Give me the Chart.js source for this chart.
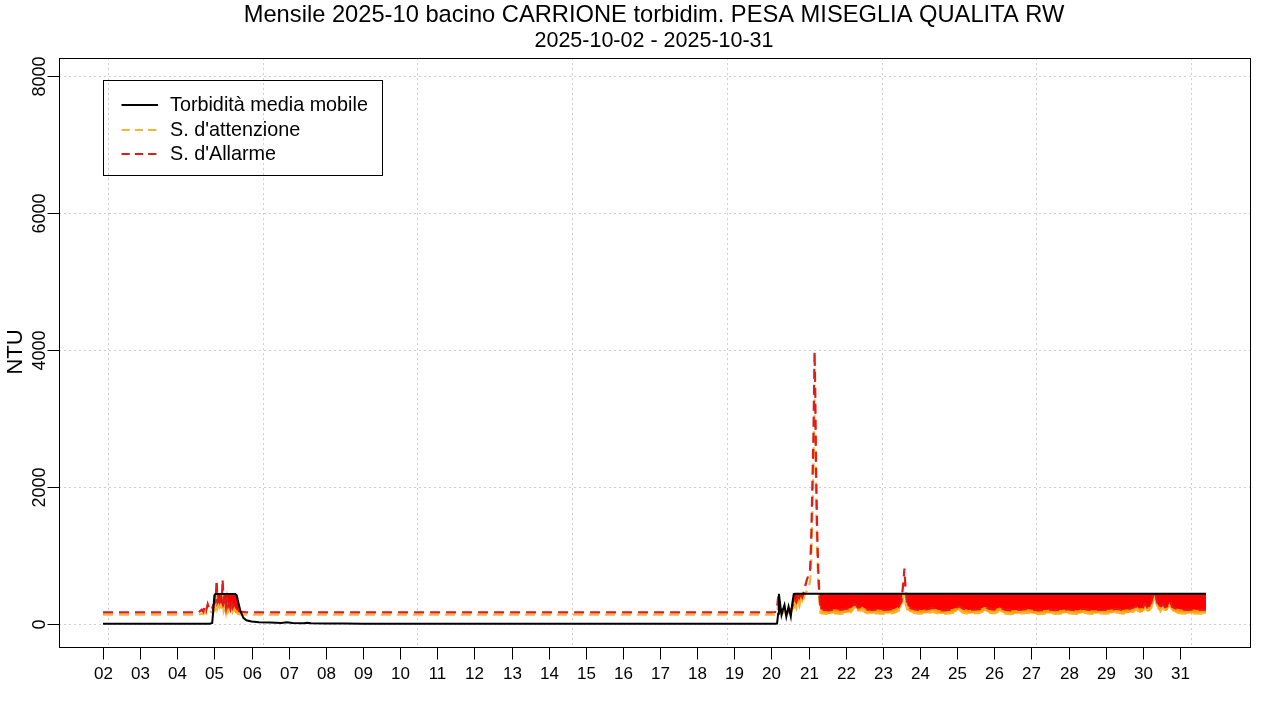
<!DOCTYPE html>
<html>
<head>
<meta charset="utf-8">
<script src="https://cdn.jsdelivr.net/npm/chart.js@4.4.1/dist/chart.umd.min.js"></script>
<style>
html, body { margin: 0; padding: 0; background: #ffffff; }
canvas { display: block; }
</style>
</head>
<body>
<canvas id="chart" width="1280" height="720"></canvas>
<script>
// ---------- texts ----------
const titleText = "Mensile 2025-10 bacino CARRIONE torbidim. PESA MISEGLIA QUALITA RW";
const subtitleText = "2025-10-02 - 2025-10-31";
const yAxisTitle = "NTU";
const seriesNames = ["Torbidità media mobile", "S. d'attenzione", "S. d'Allarme"];

// ---------- ticks (x in days of October 2025) ----------
const dayTicks = [2, 3, 4, 5, 6, 7, 8, 9, 10, 11, 12, 13, 14, 15, 16, 17, 18, 19, 20, 21, 22, 23, 24, 25, 26, 27, 28, 29, 30, 31];
const dayLabels = ["02", "03", "04", "05", "06", "07", "08", "09", "10", "11", "12", "13", "14", "15", "16", "17", "18", "19", "20", "21", "22", "23", "24", "25", "26", "27", "28", "29", "30", "31"];
const yTicks = [0, 2000, 4000, 6000, 8000];
const gridDays = [2.135, 6.302, 10.468, 14.635, 18.802, 22.968, 27.135, 31.302];

// ---------- data ----------
const time = [
  2.00, 2.50, 3.00, 3.50, 4.00, 4.40, 4.58,
  4.66, 4.70, 4.74, 4.78, 4.82, 4.86, 4.90, 4.94, 4.97, 5.00,
  5.03, 5.06, 5.08, 5.11, 5.14, 5.17, 5.20, 5.22, 5.25, 5.28,
  5.31, 5.34, 5.37, 5.40, 5.43, 5.46, 5.49, 5.52, 5.56,
  5.60, 5.65, 5.70, 5.78, 5.86,
  6.00, 6.20, 6.50, 6.80, 6.95, 7.10, 7.40, 7.50, 7.60, 8.00, 8.50, 9.00,
  10, 11, 12, 13, 14, 15, 16, 17, 18, 19, 20.00,
  20.10, 20.15, 20.18, 20.20, 20.24, 20.27, 20.31, 20.35, 20.40, 20.46, 20.52, 20.56, 20.60,
  20.63, 20.67, 20.71, 20.75, 20.79, 20.83, 20.87, 20.91, 20.95, 21.00, 21.04,
  21.07, 21.10, 21.13, 21.16, 21.18, 21.20, 21.23, 21.26, 21.29, 21.32,
  21.40, 21.55, 21.70, 21.85, 22.00, 22.15, 22.22, 22.27, 22.32, 22.45,
  22.55, 22.70, 22.85, 23.00, 23.15, 23.30, 23.42, 23.50, 23.55, 23.58,
  23.61, 23.66, 23.75, 23.90, 24.05, 24.20, 24.35, 24.50, 24.65, 24.80,
  24.95, 25.05, 25.15, 25.30, 25.45, 25.60, 25.75, 25.85, 26.00, 26.15,
  26.30, 26.45, 26.60, 26.75, 26.90, 27.05, 27.20, 27.35, 27.50, 27.65,
  27.80, 27.95, 28.10, 28.25, 28.40, 28.55, 28.70, 28.85, 29.00, 29.15,
  29.30, 29.45, 29.60, 29.75, 29.82, 29.90, 30.00, 30.06, 30.12, 30.20,
  30.26, 30.31, 30.35, 30.40, 30.47, 30.54, 30.60, 30.67, 30.73, 30.79,
  30.90, 31.05, 31.20, 31.35, 31.50, 31.70
];

const turbidity = [
  4, 4, 5, 4, 4, 5, 4,
  4, 4, 4, 4, 4, 5, 6, 15, 200, 420,
  438, 438, 438, 438, 438, 438, 438, 438, 438, 438,
  438, 438, 438, 438, 438, 438, 438, 438, 438,
  420, 300, 190, 90, 55,
  35, 26, 20, 16, 24, 14, 12, 18, 10, 8, 6, 5,
  4, 4, 4, 4, 4, 4, 4, 4, 4, 4, 4,
  4, 6, 150, 440, 260, 130, 210, 277, 107, 253, 110, 300, 438,
  442, 442, 442, 442, 442, 442, 442, 442, 442, 442, 442,
  442, 442, 442, 442, 442, 442, 442, 442, 442, 442,
  442, 442, 442, 442, 442, 442, 442, 442, 442, 442,
  442, 442, 442, 442, 442, 442, 442, 442, 442, 442,
  442, 442, 442, 442, 442, 442, 442, 442, 442, 442,
  442, 442, 442, 442, 442, 442, 442, 442, 442, 442,
  442, 442, 442, 442, 442, 442, 442, 442, 442, 442,
  442, 442, 442, 442, 442, 442, 442, 442, 442, 442,
  442, 442, 442, 442, 442, 442, 442, 442, 442, 442,
  442, 442, 442, 442, 442, 442, 442, 442, 442, 442,
  442, 442, 442, 442, 442, 442
];

const attention = [
  135, 135, 135, 135, 135, 135, 137,
  150, 140, 170, 150, 190, 160, 180, 170, 200, 190,
  220, 420, 230, 280, 190, 300, 220, 430, 200, 260,
  170, 310, 180, 220, 160, 250, 170, 200, 160,
  150, 145, 140, 138, 135,
  135, 135, 135, 135, 135, 135, 135, 135, 135, 135, 135, 135,
  135, 135, 135, 135, 135, 135, 135, 135, 135, 135, 135,
  138, 160, 280, 190, 160, 150, 160, 175, 150, 165, 150, 180, 220,
  280, 230, 320, 260, 350, 300, 380, 440, 480, 540, 620,
  950, 1600, 2300, 3300, 2800, 1900, 1050, 600, 330, 160,
  150, 145, 155, 148, 160, 175, 230, 250, 180, 200,
  160, 150, 155, 148, 152, 160, 190, 250, 380, 430,
  300, 200, 170, 155, 150, 160, 175, 150, 148, 155,
  170, 210, 165, 150, 155, 160, 195, 165, 155, 185,
  150, 145, 150, 155, 165, 150, 145, 150, 155, 148,
  150, 160, 150, 145, 165, 150, 148, 155, 150, 155,
  170, 150, 160, 180, 220, 165, 175, 260, 180, 190,
  300, 420, 330, 220, 180, 250, 185, 200, 290, 190,
  165, 155, 150, 155, 150, 152
];

const alarm = [
  170, 170, 170, 170, 170, 170, 172,
  210, 180, 260, 200, 290, 220, 250, 230, 280, 300,
  330, 640, 320, 360, 260, 380, 330, 650, 300, 340,
  240, 370, 260, 300, 230, 320, 240, 280, 230,
  200, 190, 180, 175, 170,
  170, 170, 170, 170, 170, 170, 170, 170, 170, 170, 170, 170,
  170, 170, 170, 170, 170, 170, 170, 170, 170, 170, 170,
  175, 240, 400, 280, 220, 200, 215, 235, 200, 225, 205, 250, 300,
  360, 320, 400, 340, 420, 390, 470, 560, 640, 720, 790,
  1250, 2000, 2750, 3980, 3350, 2300, 1350, 780, 440, 215,
  205, 200, 215, 205, 220, 235, 270, 290, 240, 250,
  215, 205, 210, 205, 210, 220, 250, 330, 600, 810,
  520, 270, 230, 210, 205, 215, 235, 205, 200, 210,
  230, 260, 225, 205, 210, 215, 250, 225, 210, 240,
  205, 200, 205, 210, 220, 205, 200, 205, 210, 202,
  205, 215, 205, 200, 222, 205, 202, 210, 205, 210,
  225, 205, 215, 240, 260, 225, 235, 300, 240, 250,
  380, 480, 400, 280, 240, 290, 245, 260, 330, 250,
  225, 212, 205, 210, 205, 208
];

// ---------- styles ----------
const FONT = "'Liberation Sans', Arial, sans-serif";
const COL_TURB = "#000000";
const COL_ATT = "#F7B43A";
const COL_ALARM = "#DD1C1C";
const FILL_ALARM = "#FF0000";
const FILL_ATT = "#FFA000";
const DASH = [10, 6];

function toPoints(values) {
  return time.map((x, i) => ({ x: x, y: values[i] }));
}

const decorPlugin = {
  id: "decor",
  beforeDatasetsDraw(chart) {
    const ctx = chart.ctx;
    const a = chart.chartArea;
    const xs = chart.scales.x, ys = chart.scales.y;
    ctx.save();
    ctx.strokeStyle = "#cfcfcf";
    ctx.lineWidth = 1;
    ctx.setLineDash([2, 3]);
    gridDays.forEach(d => {
      const px = Math.round(xs.getPixelForValue(d)) + 0.5;
      ctx.beginPath(); ctx.moveTo(px, a.top); ctx.lineTo(px, a.bottom); ctx.stroke();
    });
    yTicks.forEach(v => {
      const py = Math.round(ys.getPixelForValue(v)) + 0.5;
      ctx.beginPath(); ctx.moveTo(a.left, py); ctx.lineTo(a.right, py); ctx.stroke();
    });
    ctx.restore();
  },
  afterDraw(chart) {
    const ctx = chart.ctx;
    const a = chart.chartArea;
    const xs = chart.scales.x, ys = chart.scales.y;
    ctx.save();
    ctx.setLineDash([]);
    ctx.strokeStyle = "#000";
    ctx.fillStyle = "#000";
    ctx.lineWidth = 1;
    // box
    ctx.strokeRect(Math.round(a.left) + 0.5, Math.round(a.top) + 0.5, Math.round(a.right - a.left), Math.round(a.bottom - a.top));
    // x axis ticks & labels
    ctx.font = "17px " + FONT;
    ctx.textAlign = "center";
    ctx.textBaseline = "alphabetic";
    const yb = Math.round(a.bottom) + 0.5;
    dayTicks.forEach((d, i) => {
      const px = Math.round(xs.getPixelForValue(d)) + 0.5;
      ctx.beginPath(); ctx.moveTo(px, yb); ctx.lineTo(px, yb + 12); ctx.stroke();
      ctx.fillText(dayLabels[i], px, 679);
    });
    // y axis ticks & labels
    const xl = Math.round(a.left) + 0.5;
    ctx.font = "18px " + FONT;
    yTicks.forEach(v => {
      const py = Math.round(ys.getPixelForValue(v)) + 0.5;
      ctx.beginPath(); ctx.moveTo(xl, py); ctx.lineTo(xl - 12, py); ctx.stroke();
      ctx.save();
      ctx.translate(45, py);
      ctx.rotate(-Math.PI / 2);
      ctx.fillText(String(v), 0, 0);
      ctx.restore();
    });
    // y title
    ctx.save();
    ctx.font = "22px " + FONT;
    ctx.translate(22, 352);
    ctx.rotate(-Math.PI / 2);
    ctx.fillText(yAxisTitle, 0, 0);
    ctx.restore();
    // titles
    ctx.textBaseline = "middle";
    ctx.font = "23.7px " + FONT;
    ctx.fillText(titleText, 654, 15);
    ctx.font = "21.5px " + FONT;
    ctx.fillText(subtitleText, 654, 41);
    // legend
    ctx.strokeRect(103.5, 80.5, 279, 95);
    const rows = [
      { y: 105, color: COL_TURB, dash: [], name: seriesNames[0] },
      { y: 130, color: COL_ATT, dash: [8.3, 5], name: seriesNames[1] },
      { y: 154, color: COL_ALARM, dash: [8.3, 5], name: seriesNames[2] }
    ];
    ctx.font = "19.8px " + FONT;
    ctx.textAlign = "left";
    rows.forEach(r => {
      ctx.save();
      ctx.strokeStyle = r.color;
      ctx.lineWidth = 2;
      ctx.setLineDash(r.dash);
      ctx.beginPath(); ctx.moveTo(121.5, r.y); ctx.lineTo(158, r.y); ctx.stroke();
      ctx.restore();
      ctx.fillText(r.name, 170, r.y + 1);
    });
    ctx.restore();
  }
};

new Chart(document.getElementById("chart"), {
  type: "line",
  data: {
    datasets: [
      { label: seriesNames[0], data: toPoints(turbidity), borderColor: COL_TURB, borderWidth: 2, pointRadius: 0, fill: false },
      { label: seriesNames[2], data: toPoints(alarm), borderColor: COL_ALARM, borderWidth: 2.2, borderDash: DASH, pointRadius: 0,
        fill: { target: 0, above: "rgba(0,0,0,0)", below: FILL_ALARM } },
      { label: seriesNames[1], data: toPoints(attention), borderColor: COL_ATT, borderWidth: 2.2, borderDash: DASH, pointRadius: 0,
        fill: { target: 0, above: "rgba(0,0,0,0)", below: FILL_ATT } }
    ]
  },
  options: {
    responsive: false,
    animation: false,
    devicePixelRatio: 1,
    layout: { padding: { left: 59, top: 58, right: 30, bottom: 73 } },
    elements: { line: { tension: 0 } },
    scales: {
      x: { type: "linear", min: 0.815, max: 32.885, display: false },
      y: { type: "linear", min: -336, max: 8263, display: false }
    },
    plugins: {
      legend: { display: false },
      title: { display: false },
      tooltip: { enabled: false }
    }
  },
  plugins: [decorPlugin]
});
</script>
</body>
</html>
